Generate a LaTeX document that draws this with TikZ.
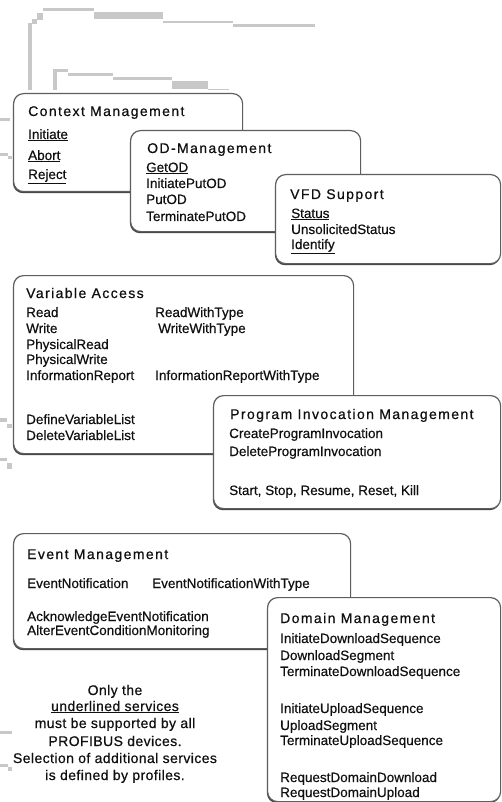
\documentclass[tikz,border=0pt]{standalone}
\usepackage{fontspec}
\setmainfont{Liberation Sans}[FakeBold=0.6]
\newfontfamily\bodyfont[FakeBold=0.5]{Liberation Sans}
\newfontfamily\ttlfont[LetterSpace=10,FakeBold=0.6]{Liberation Sans}
\newfontfamily\notefont[LetterSpace=3,FakeBold=0.5]{Liberation Sans}
\usetikzlibrary{shadows}
\definecolor{ghostgray}{HTML}{C8C8C8}
\definecolor{boxgray}{HTML}{5E5E5E}
\definecolor{shadowgray}{HTML}{464646}
\definecolor{inkcol}{HTML}{101010}
\tikzset{
  box/.style={draw=boxgray, line width=1.2pt, fill=white, rounded corners=10pt,
    inner sep=0pt, anchor=north west,
    drop shadow={shadow xshift=-0.7pt, shadow yshift=-1.6pt, fill=shadowgray, opacity=1}},
  ttl/.style={anchor=base west, inner sep=0pt, text=inkcol, font=\ttlfont\fontsize{14}{16}\selectfont},
  itm/.style={anchor=base west, inner sep=0pt, text=inkcol, font=\bodyfont\fontsize{13.5}{15}\selectfont},
  note/.style={anchor=base, inner sep=0pt, text=inkcol, font=\notefont\fontsize{14}{16}\selectfont},
  ghost/.style={fill=ghostgray, draw=none}
}
\begin{document}
\begin{tikzpicture}[x=1pt, y=-1pt]
\useasboundingbox (0,0) rectangle (502,802);
\fill[white] (0,0) rectangle (502,802);

% faded lines at top and left
\fill[ghost] (28,23) rectangle (32,90);
\fill[ghost] (32,19) rectangle (37,24);
\fill[ghost] (37,13) rectangle (43,20);
\fill[ghost] (43,8) rectangle (94,11);
\fill[ghost] (94,12) rectangle (163,19);
\fill[ghost] (163,21) rectangle (233,23.5);
\fill[ghost] (233,24) rectangle (315,27);
\fill[ghost] (53,69) rectangle (57,90);
\fill[ghost] (57,69) rectangle (68,72);
\fill[ghost] (68,73) rectangle (113,76);
\fill[ghost] (113,77) rectangle (172,80);
\fill[ghost] (172,81) rectangle (208,89);
\fill[ghost] (208,89.5) rectangle (229,90.5);
\fill[ghost] (0,118) rectangle (10,121);
\fill[ghost] (0,153) rectangle (8,156);
\fill[ghost] (8,156) rectangle (12,159);
\fill[ghost] (0,418) rectangle (7,422);
\fill[ghost] (7,424) rectangle (12,428);
\fill[ghost] (0,458) rectangle (7,461);
\fill[ghost] (7,463) rectangle (12,469);
\fill[ghost] (0,731) rectangle (12,733.5);
\fill[ghost] (0,764) rectangle (8,767);
\fill[ghost] (8,767) rectangle (12,771);

% Context Management
\node[box, minimum width=229pt, minimum height=98pt] (ctx) at (13,93) {};
\node[ttl] (ctxT) at (28,116) {Context Management};
\node[itm] (ctx1) at (28,139) {\underline{Initiate}};
\node[itm] (ctx2) at (28,160) {\underline{Abort}};
\node[itm] (ctx3) at (28,179) {\underline{Reject}};

% OD-Management
\node[box, minimum width=230pt, minimum height=101pt] (od) at (130,130) {};
\node[ttl] (odT) at (147,153) {OD-Management};
\node[itm] (od1) at (146,172) {\underline{GetOD}};
\node[itm] (od2) at (146,188) {InitiatePutOD};
\node[itm] (od3) at (146,204) {PutOD};
\node[itm] (od4) at (146,221) {TerminatePutOD};

% VFD Support
\node[box, minimum width=225pt, minimum height=89pt] (vfd) at (275,174) {};
\node[ttl] (vfdT) at (290,199) {VFD Support};
\node[itm] (vfd1) at (291,218) {\underline{Status}};
\node[itm] (vfd2) at (291,234) {UnsolicitedStatus};
\node[itm] (vfd3) at (291,249) {\underline{Identify}};

% Variable Access
\node[box, minimum width=340pt, minimum height=178pt] (var) at (13,275) {};
\node[ttl] (varT) at (26,298) {Variable Access};
\node[itm] (var1) at (26,317) {Read};
\node[itm] (var1b) at (155,317) {ReadWithType};
\node[itm] (var2) at (26,333) {Write};
\node[itm] (var2b) at (158,333) {WriteWithType};
\node[itm] (var3) at (26,349) {PhysicalRead};
\node[itm] (var4) at (26,364) {PhysicalWrite};
\node[itm] (var5) at (26,380) {InformationReport};
\node[itm] (var5b) at (155,380) {InformationReportWithType};
\node[itm] (var6) at (26,424) {DefineVariableList};
\node[itm] (var7) at (26,440) {DeleteVariableList};

% Program Invocation Management
\node[box, minimum width=287pt, minimum height=113pt] (pim) at (213,395) {};
\node[ttl] (pimT) at (230,419) {Program Invocation Management};
\node[itm] (pim1) at (229,438) {CreateProgramInvocation};
\node[itm] (pim2) at (229,456) {DeleteProgramInvocation};
\node[itm] (pim3) at (229,495) {Start, Stop, Resume, Reset, Kill};

% Event Management
\node[box, minimum width=337pt, minimum height=115pt] (evt) at (13,533) {};
\node[ttl] (evtT) at (27,559) {Event Management};
\node[itm] (evt1) at (27,588) {EventNotification};
\node[itm] (evt1b) at (152,588) {EventNotificationWithType};
\node[itm] (evt2) at (27,621) {AcknowledgeEventNotification};
\node[itm] (evt3) at (27,635) {AlterEventConditionMonitoring};

% Domain Management
\node[box, minimum width=233pt, minimum height=204pt] (dom) at (267,597) {};
\node[ttl] (domT) at (280,623) {Domain Management};
\node[itm] (dom1) at (280,643) {InitiateDownloadSequence};
\node[itm] (dom2) at (280,660) {DownloadSegment};
\node[itm] (dom3) at (280,676) {TerminateDownloadSequence};
\node[itm] (dom4) at (280,713) {InitiateUploadSequence};
\node[itm] (dom5) at (280,730) {UploadSegment};
\node[itm] (dom6) at (280,745) {TerminateUploadSequence};
\node[itm] (dom7) at (280,782) {RequestDomainDownload};
\node[itm] (dom8) at (280,797) {RequestDomainUpload};

% note
\node[note] (n1) at (115,695) {Only the};
\node[note] (n2) at (115,711) {\underline{underlined services}};
\node[note] (n3) at (115,728) {must be supported by all};
\node[note] (n4) at (115,746) {PROFIBUS devices.};
\node[note] (n5) at (115,763) {Selection of additional services};
\node[note] (n6) at (115,780) {is defined by profiles.};
\end{tikzpicture}
\end{document}
